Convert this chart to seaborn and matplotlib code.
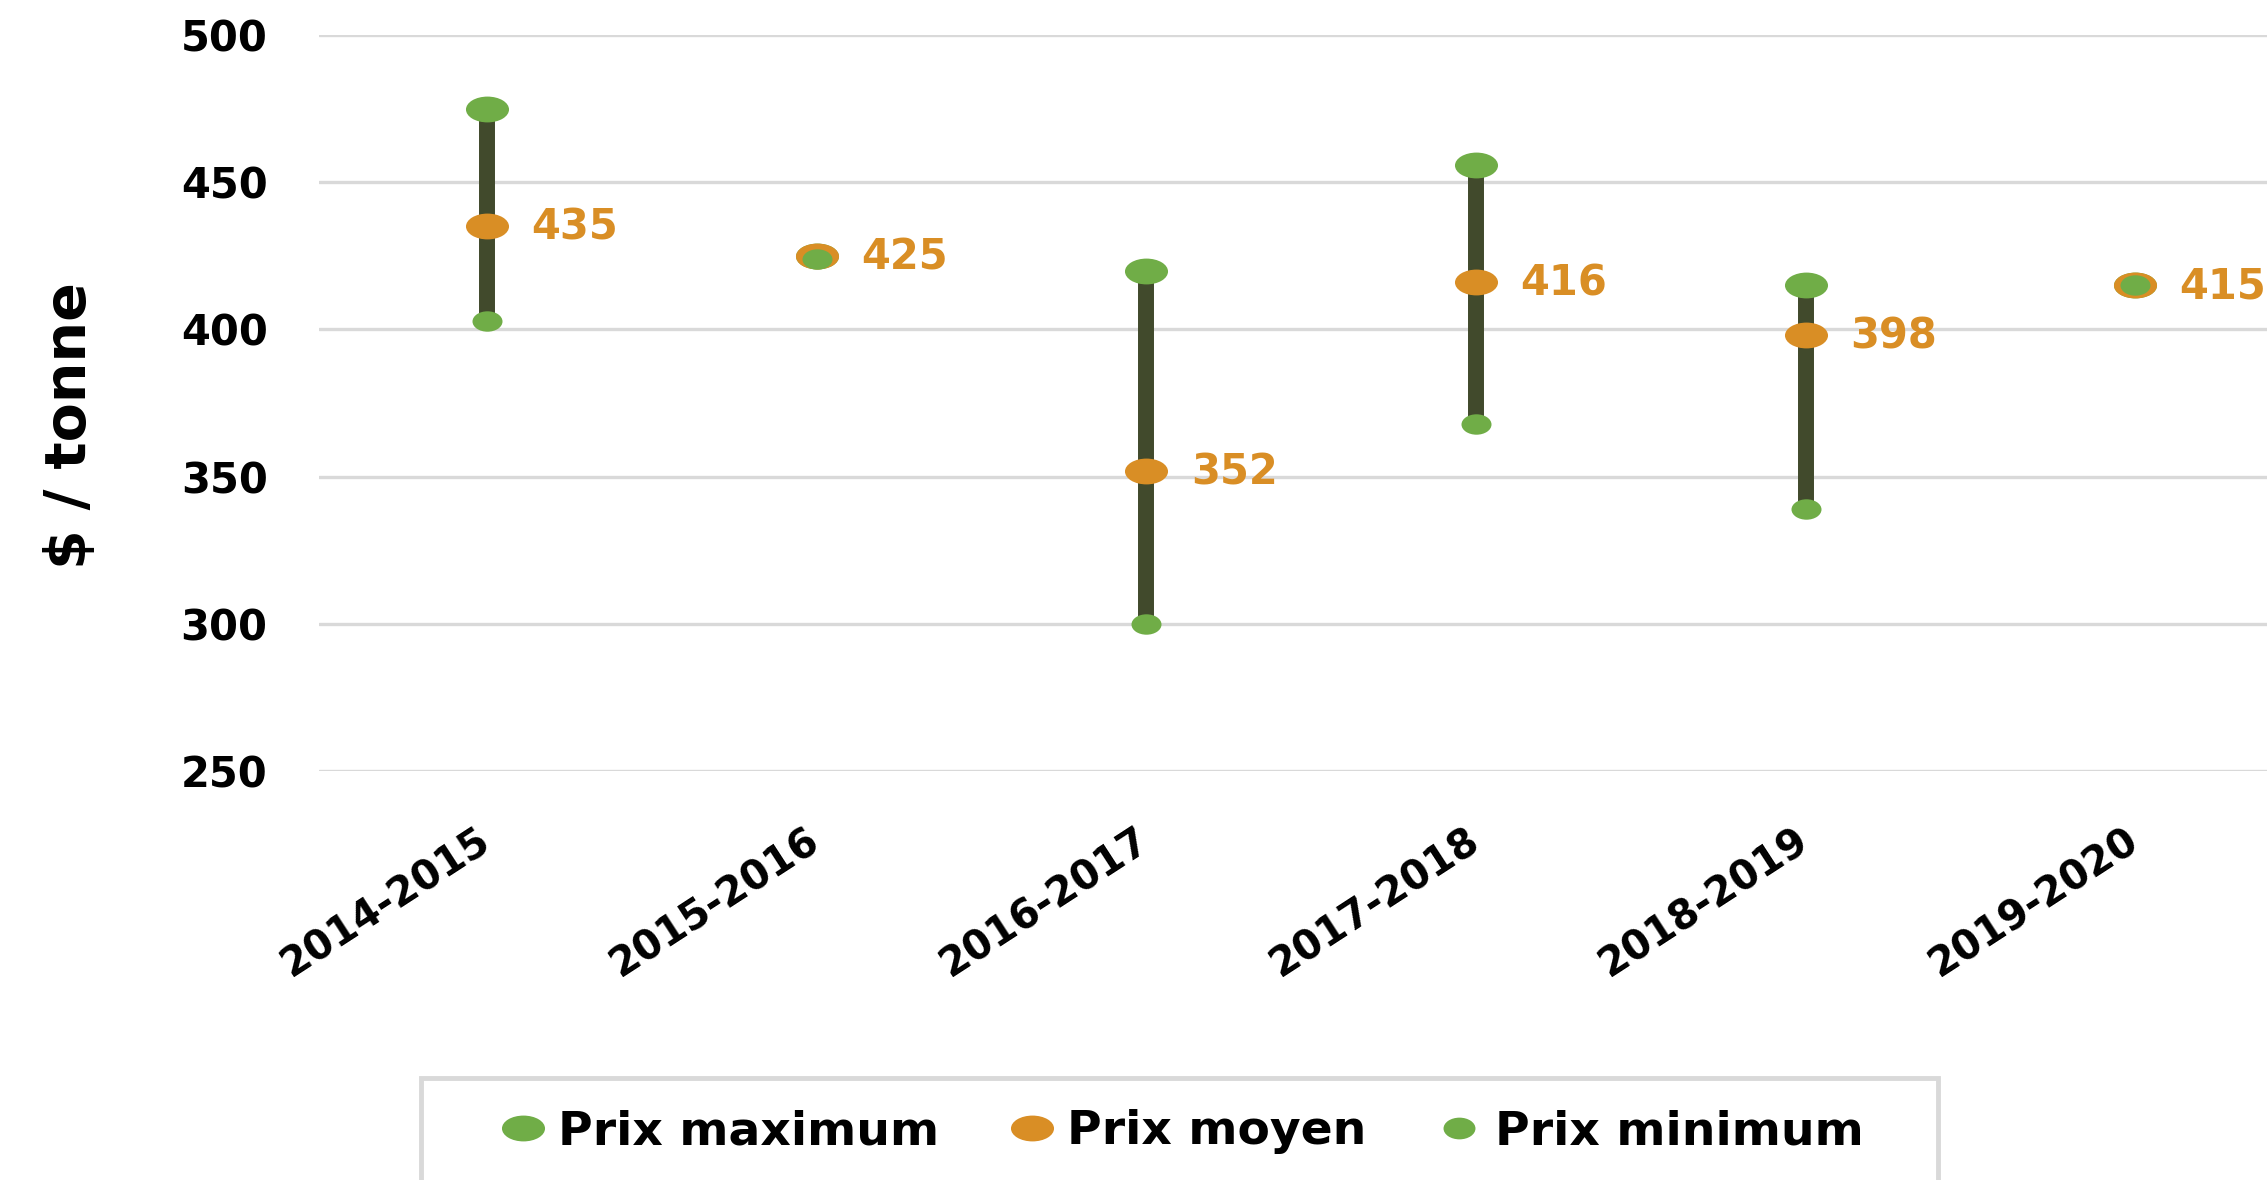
import matplotlib
matplotlib.use("Agg")
import matplotlib.pyplot as plt
from matplotlib.lines import Line2D
from matplotlib.markers import MarkerStyle
from matplotlib.patches import Rectangle
from matplotlib.path import Path
from matplotlib.transforms import Affine2D, ScaledTranslation
import pandas as pd
import seaborn as sns

campagnes = ["2014-2015", "2015-2016", "2016-2017", "2017-2018", "2018-2019", "2019-2020"]
prix_max = [475, 425, 420, 456, 415, 415]
prix_moyen = [435, 425, 352, 416, 398, 415]
prix_min = [403, 424, 300, 368, 339, 415]

green = "#70AD47"
orange = "#D98E25"
olive = "#414A2C"
grid = "#D9D9D9"

df = pd.DataFrame({"campagne": campagnes, "max": prix_max, "moyen": prix_moyen, "min": prix_min})

sns.set_theme(style="white")
plt.rcParams["font.family"] = ["DejaVu Sans"]
plt.rcParams["font.weight"] = "bold"
plt.rcParams["text.color"] = "black"
plt.rcParams["axes.labelcolor"] = "black"
plt.rcParams["xtick.color"] = "black"
plt.rcParams["ytick.color"] = "black"

# Excel-like flattened dots
big_dot = MarkerStyle(Affine2D().scale(1, 0.6).transform_path(Path.unit_circle()))
small_dot = MarkerStyle(Affine2D().scale(1, 0.68).transform_path(Path.unit_circle()))

fig = plt.figure(figsize=(22.67, 11.8), dpi=100)
ax = fig.add_axes([319 / 2267, 1 - 771 / 1180, 1 - 319 / 2267, 736 / 1180])

ax.vlines(df["campagne"], df["min"], df["max"], color=olive, lw=11.5, zorder=2)
sns.scatterplot(data=df, x="campagne", y="max", ax=ax, marker=big_dot, s=961,
                color=green, linewidth=0, zorder=3, clip_on=False)
sns.scatterplot(data=df, x="campagne", y="moyen", ax=ax, marker=big_dot, s=961,
                color=orange, linewidth=0, zorder=4, clip_on=False)
sns.scatterplot(data=df, x="campagne", y="min", ax=ax, marker=small_dot, s=467,
                color=green, linewidth=0, zorder=5, clip_on=False)

for c, v in zip(campagnes, prix_moyen):
    ax.annotate(str(v), (c, v), xytext=(32, -1), textcoords="offset points",
                ha="left", va="center", color=orange, fontsize=30, fontweight="bold")

ax.set_ylim(250, 500)
ax.set_xlim(-0.51, 5.40)
ax.set_yticks([250, 300, 350, 400, 450, 500])
ax.grid(axis="y", color=grid, lw=2.4)
ax.grid(axis="x", visible=False)
ax.set_axisbelow(True)
for s in ax.spines.values():
    s.set_visible(False)

ax.tick_params(axis="y", length=0, pad=37, labelsize=30)
ax.tick_params(axis="x", length=0, pad=36, labelsize=29)
shift = ScaledTranslation(-0.11, 0, fig.dpi_scale_trans)
for lab in ax.get_xticklabels():
    lab.set_rotation(33)
    lab.set_ha("right")
    lab.set_va("top")
    lab.set_rotation_mode("anchor")
    lab.set_transform(lab.get_transform() + shift)
for lab in ax.get_xticklabels() + ax.get_yticklabels():
    lab.set_fontweight("bold")

ax.set_xlabel("")
ax.set_ylabel("$ / tonne", fontsize=41, fontweight="bold")
ax.yaxis.set_label_coords(-0.1134, 0.47)

handles = [
    Line2D([], [], ls="", marker=big_dot, markersize=31, color=green, markeredgewidth=0),
    Line2D([], [], ls="", marker=big_dot, markersize=31, color=orange, markeredgewidth=0),
    Line2D([], [], ls="", marker=small_dot, markersize=23, color=green, markeredgewidth=0),
]
fig.legend(handles, ["Prix maximum", "Prix moyen", "Prix minimum"], ncol=3,
           loc="center left", bbox_to_anchor=(501 / 2267, 1 - 1132 / 1180),
           frameon=False, borderpad=0, borderaxespad=0,
           handlelength=0.93, handletextpad=0.28, columnspacing=1.5,
           prop={"weight": "bold", "size": 34})
fig.add_artist(Rectangle((421 / 2267, -0.05), (1938 - 421) / 2267, 0.05 + 1 - 1078 / 1180,
                         transform=fig.transFigure, fill=False, ec=grid, lw=3.5))

fig.savefig("out.png", dpi=100)
